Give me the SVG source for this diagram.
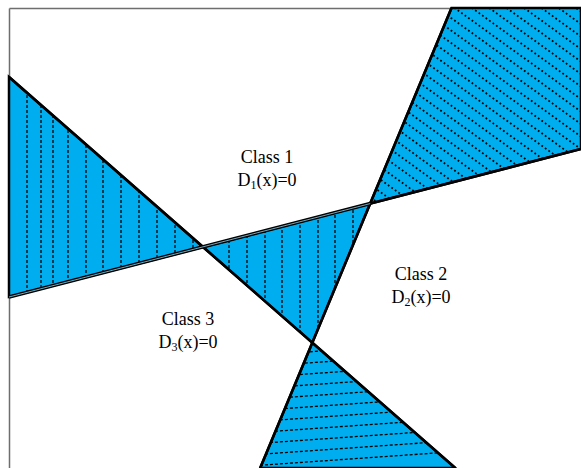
<svg xmlns="http://www.w3.org/2000/svg" width="581" height="468" viewBox="0 0 581 468">
<style>
.fill{fill:#00AEEF;stroke:#000;stroke-width:2.5;stroke-linejoin:miter}
.line{stroke:#000;stroke-width:2.6;fill:none}
.hv{stroke:#000;stroke-width:1.3;stroke-dasharray:3 2;fill:none}
.hd{stroke:#000;stroke-width:1.8;stroke-dasharray:1.8 2.5;fill:none}
.lbl{font-family:"Liberation Serif","Times New Roman",serif;font-size:18px;fill:#000;text-anchor:middle}
.sub{font-size:12px}
</style>
<defs>
<clipPath id="cL"><polygon points="9,77 203,247 9,297"/></clipPath>
<clipPath id="cM"><polygon points="203,247 370.2,203.6 312.3,342.7"/></clipPath>
<clipPath id="cT"><polygon points="370.2,203.6 451.5,8 581,8 581,149"/></clipPath>
<clipPath id="cB"><polygon points="312.3,342.7 260.2,468 455.3,468"/></clipPath>
</defs>
<rect x="0" y="0" width="581" height="468" fill="#fff"/>
<g id="frame" stroke="#6e6e6e" stroke-width="1.5" fill="none">
<line x1="9.5" y1="8.5" x2="581" y2="8.5"/>
<line x1="9.5" y1="8.5" x2="9.5" y2="468"/>
</g>
<g id="region-left">
<polygon class="fill" points="9,77 203,247 9,297"/>
<g clip-path="url(#cL)" class="hv">
<path d="M27,80V300M41,80V300M53,80V300M68,80V300M86,80V300M103,80V300M121,80V300M139,80V300M157,80V300M175,80V300M193,80V300"/>
</g>
</g>
<g id="region-middle">
<polygon class="fill" points="203,247 370.2,203.6 312.3,342.7"/>
<g clip-path="url(#cM)" class="hv">
<path d="M229,200V345M247,200V345M265,200V345M282,200V345M300,200V345M318,200V345M335,200V345M353,200V345"/>
</g>
</g>
<g id="region-topright">
<polygon class="fill" points="370.2,203.6 451.5,8 581,8 581,149"/>
<g clip-path="url(#cT)" class="hd">
<path d="M360,-147.6L600,25.2M360,-135.1L600,37.7M360,-122.6L600,50.2M360,-110.1L600,62.7M360,-97.6L600,75.2M360,-85.1L600,87.7M360,-72.6L600,100.2M360,-60.1L600,112.7M360,-47.6L600,125.2M360,-35.1L600,137.7M360,-22.6L600,150.2M360,-10.1L600,162.7M360,2.4L600,175.2M360,14.9L600,187.7M360,27.4L600,200.2M360,39.9L600,212.7M360,52.4L600,225.2M360,64.9L600,237.7M360,77.4L600,250.2M360,89.9L600,262.7M360,102.4L600,275.2M360,114.9L600,287.7M360,127.4L600,300.2M360,139.9L600,312.7M360,152.4L600,325.2M360,164.9L600,337.7M360,177.4L600,350.2M360,189.9L600,362.7"/>
</g>
</g>
<g id="region-bottom">
<polygon class="fill" points="312.3,342.7 260.2,468 455.3,468"/>
<g clip-path="url(#cB)" class="hv">
<path d="M250,356L470,340.6M250,367L470,351.6M250,378L470,362.6M250,389L470,373.6M250,400L470,384.6M250,411L470,395.6M250,422L470,406.6M250,433L470,417.6M250,444L470,428.6M250,455L470,439.6M250,466L470,450.6"/>
</g>
</g>
<g id="boundaries">
<line class="line" x1="9" y1="77" x2="455.3" y2="468"/>
<line class="line" x1="260.2" y1="468" x2="451.5" y2="8"/>
<line class="line" x1="370.2" y1="203.6" x2="581" y2="149"/>
<line x1="9" y1="297" x2="370.2" y2="203.6" stroke="#000" stroke-width="3.6"/>
<line x1="9" y1="297" x2="370.2" y2="203.6" stroke="#8fd3ef" stroke-width="0.8"/>
</g>
<g id="class1">
<text class="lbl" x="267" y="163">Class 1</text>
<text class="lbl" x="267" y="186">D<tspan class="sub" dy="3">1</tspan><tspan dy="-3">(x)=0</tspan></text>
</g>
<g id="class2">
<text class="lbl" x="421" y="280">Class 2</text>
<text class="lbl" x="421" y="303">D<tspan class="sub" dy="3">2</tspan><tspan dy="-3">(x)=0</tspan></text>
</g>
<g id="class3">
<text class="lbl" x="188" y="325">Class 3</text>
<text class="lbl" x="188" y="348">D<tspan class="sub" dy="3">3</tspan><tspan dy="-3">(x)=0</tspan></text>
</g>
</svg>
